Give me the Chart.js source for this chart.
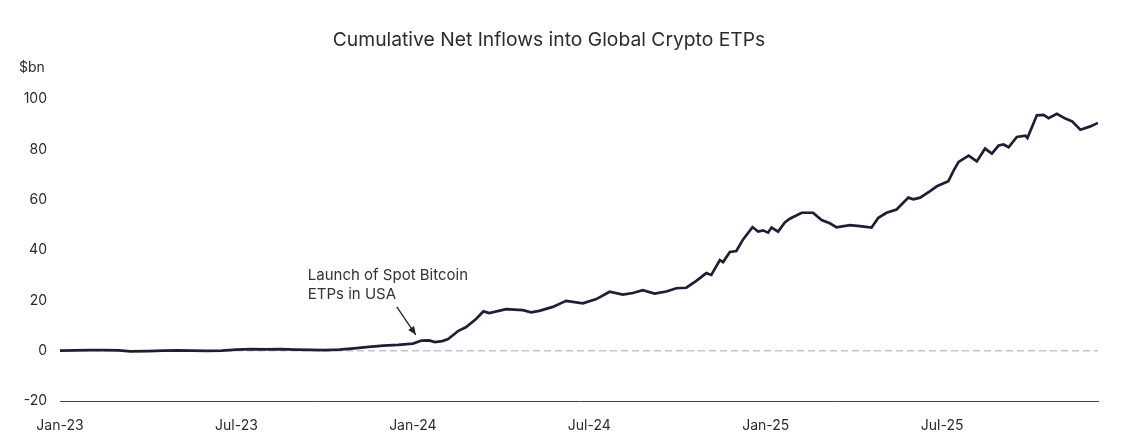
<!DOCTYPE html>
<html>
<head>
<meta charset="utf-8">
<script src="https://cdn.jsdelivr.net/npm/chart.js@4.4.1/dist/chart.umd.min.js"></script>
<style>
  html, body { margin: 0; padding: 0; background: #fff; }
  #wrap { width: 1121px; height: 447px; }
</style>
</head>
<body>
<div id="wrap"><canvas id="myChart"></canvas></div>
<script>
// months since Jan-23
const months = [0, 0.5, 1, 1.5, 2, 2.4, 3, 3.5, 4, 5, 5.5, 6, 6.5, 7, 7.5, 8, 8.5, 9, 9.5,
  10, 10.5, 11, 11.5, 12, 12.3, 12.55, 12.75, 13, 13.2, 13.55, 13.8, 14.15, 14.4, 14.6,
  15.17, 15.74, 16.02, 16.3, 16.76, 17.21, 17.78, 18.24, 18.69, 19.14, 19.48, 19.82,
  20.22, 20.62, 20.96, 21.3, 21.64, 21.98, 22.15, 22.44, 22.55, 22.78, 23, 23.23, 23.55,
  23.74, 23.91, 24.08, 24.2, 24.42, 24.65, 24.82, 25.22, 25.61, 25.9, 26.18, 26.41,
  26.86, 27.2, 27.6, 27.83, 28.11, 28.45, 28.85, 29.02, 29.25, 29.59, 29.82, 30.21,
  30.38, 30.56, 30.9, 31.18, 31.46, 31.69, 31.92, 32.09, 32.26, 32.54, 32.83, 32.9,
  33.22, 33.45, 33.62, 33.9, 34.19, 34.42, 34.7, 35.04, 35.3];

// cumulative net inflows, $bn
const inflows = [0, 0.1, 0.2, 0.2, 0.1, -0.3, -0.2, 0, 0.1, -0.1, 0, 0.4, 0.6, 0.5, 0.6, 0.4, 0.3, 0.2, 0.4,
  0.9, 1.5, 2.0, 2.3, 2.8, 4.0, 4.1, 3.4, 3.8, 4.6, 7.9, 9.3, 12.6, 15.6, 14.9,
  16.5, 16.1, 15.2, 15.8, 17.4, 19.8, 18.8, 20.5, 23.4, 22.3, 22.9, 24.0,
  22.7, 23.5, 24.8, 25.0, 27.7, 30.8, 30.1, 36.0, 35.2, 39.2, 39.6, 44.2, 49.1,
  47.3, 47.8, 46.9, 48.9, 47.3, 50.9, 52.4, 54.8, 54.8, 51.9, 50.6, 49.0,
  49.9, 49.5, 48.9, 52.8, 54.8, 56.1, 60.8, 60.1, 60.8, 63.4, 65.3, 67.3,
  71.3, 75.0, 77.5, 75.2, 80.3, 78.3, 81.5, 81.9, 80.8, 84.9, 85.4, 84.5,
  93.5, 93.7, 92.4, 94.1, 92.2, 91.1, 87.8, 89.1, 90.5];

const tickLabels = ["Jan-23", "Jul-23", "Jan-24", "Jul-24", "Jan-25", "Jul-25"];
const tickMonths = [0, 6, 12, 18, 24, 30];

const launchMonth = 12.1;   // Spot Bitcoin ETP launch, Jan-24
const launchValue = 6.3;

const textColor = "#2b2b2b";
const fontFam = "Inter, 'Noto Sans', sans-serif";

const points = months.map((m, i) => ({ x: m, y: inflows[i] }));
const xMax = months[months.length - 1];

// extra bits: $bn unit label and the launch annotation
const extras = {
  id: "extras",
  afterDatasetsDraw(chart) {
    const ctx = chart.ctx;
    const xs = chart.scales.x, ys = chart.scales.y;
    ctx.save();
    ctx.fillStyle = textColor;
    ctx.font = "14px " + fontFam;
    ctx.textAlign = "left";
    ctx.textBaseline = "middle";
    ctx.fillText("$bn", 19, ys.getPixelForValue(100) - 31);

    const hx = xs.getPixelForValue(launchMonth);
    const hy = ys.getPixelForValue(launchValue);
    const tx = hx - 19, ty = hy - 28;
    ctx.strokeStyle = "#222";
    ctx.lineWidth = 1.3;
    ctx.beginPath();
    ctx.moveTo(tx, ty);
    ctx.lineTo(hx, hy);
    ctx.stroke();
    const ang = Math.atan2(hy - ty, hx - tx);
    ctx.fillStyle = "#222";
    ctx.beginPath();
    ctx.moveTo(hx, hy);
    ctx.lineTo(hx - 9 * Math.cos(ang - 0.4), hy - 9 * Math.sin(ang - 0.4));
    ctx.lineTo(hx - 9 * Math.cos(ang + 0.4), hy - 9 * Math.sin(ang + 0.4));
    ctx.closePath();
    ctx.fill();

    ctx.fillStyle = "#333";
    ctx.font = "15px " + fontFam;
    ctx.fillText("Launch of Spot Bitcoin", tx - 89, ty - 31);
    ctx.fillText("ETPs in USA", tx - 89, ty - 12);
    ctx.restore();
  }
};

const ctx = document.querySelector("#myChart").getContext("2d");
const chart = new Chart(ctx, {
  type: "line",
  data: {
    datasets: [
      {
        label: "Cumulative net inflows",
        data: points,
        borderColor: "#1d1f35",
        borderWidth: 2.7,
        pointRadius: 0,
        tension: 0,
        order: 1,
      },
      {
        label: "zero",
        data: [{ x: 0, y: 0 }, { x: xMax, y: 0 }],
        borderColor: "#c4c4cf",
        borderWidth: 1.5,
        borderDash: [7, 4],
        pointRadius: 0,
        order: 2,
      },
    ],
  },
  options: {
    responsive: true,
    maintainAspectRatio: false,
    animation: false,
    layout: { padding: { left: 0, right: 23, top: 0, bottom: 0 } },
    plugins: {
      legend: { display: false },
      tooltip: { enabled: false },
      title: {
        display: true,
        text: "Cumulative Net Inflows into Global Crypto ETPs",
        color: textColor,
        font: { family: fontFam, size: 19.3, weight: "normal", lineHeight: 1.2 },
        padding: { top: 29, bottom: 46.8 },
      },
    },
    scales: {
      x: {
        type: "linear",
        min: 0,
        max: xMax,
        afterFit(scale) { scale.height = 46; },
        afterBuildTicks(scale) { scale.ticks = tickMonths.map((v) => ({ value: v })); },
        grid: { display: false, drawTicks: false },
        border: { display: true, color: "#444", width: 1 },
        ticks: {
          color: textColor,
          font: { family: fontFam, size: 14 },
          padding: 16,
          maxRotation: 0,
          autoSkip: false,
          callback: (v) => tickLabels[tickMonths.indexOf(v)],
        },
      },
      y: {
        min: -20,
        max: 100,
        afterFit(scale) { scale.width = 60; },
        grid: { display: false, drawTicks: false },
        border: { display: false },
        ticks: {
          stepSize: 20,
          color: textColor,
          font: { family: fontFam, size: 14 },
          padding: 13,
        },
      },
    },
  },
  plugins: [extras],
});
</script>
</body>
</html>
